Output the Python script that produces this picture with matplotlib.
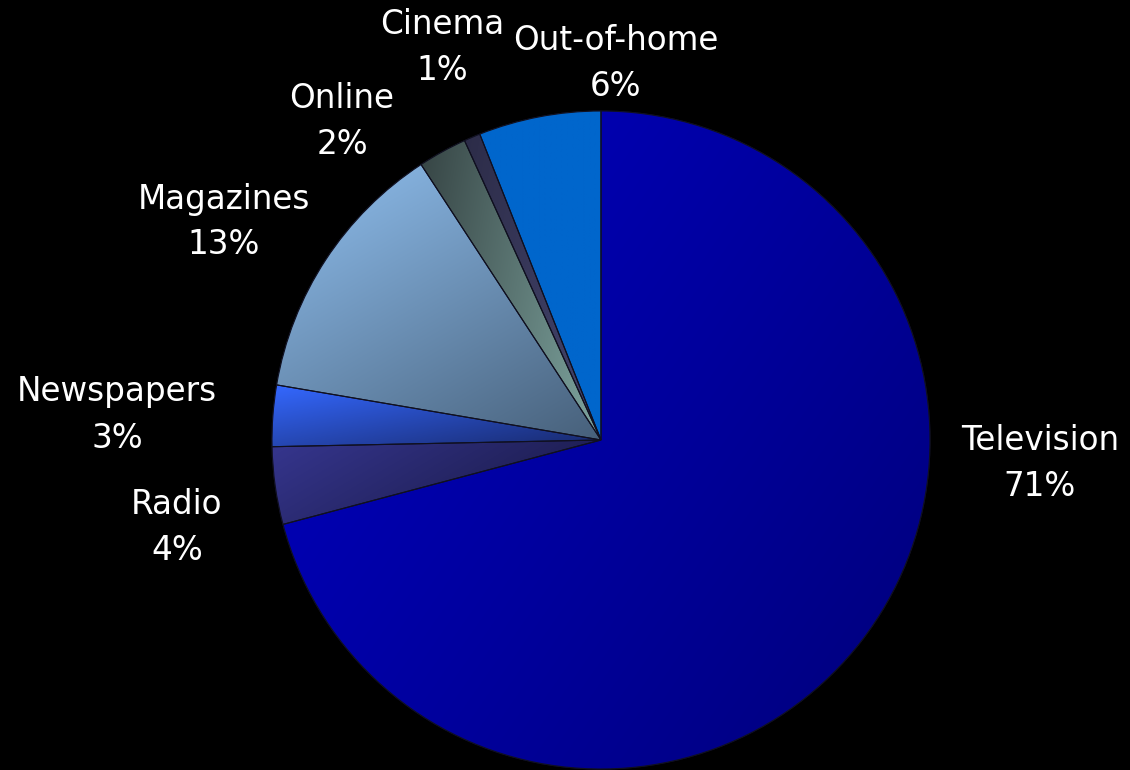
import numpy as np
import matplotlib.pyplot as plt
from matplotlib.colors import to_rgb
from matplotlib.patches import PathPatch

# ---------------------------------------------------------------------------
# DATA
# ---------------------------------------------------------------------------
media = ["Television", "Radio", "Newspapers", "Magazines", "Online", "Cinema", "Out-of-home"]
share = [70.8, 3.8, 3.0, 13.1, 2.4, 0.8, 6.0]
pct_labels = ["71%", "4%", "3%", "13%", "2%", "1%", "6%"]

# ---------------------------------------------------------------------------
# STYLE / LAYOUT (pixel geometry of the reference)
# ---------------------------------------------------------------------------
W, H = 1130, 770
CX, CY, R = 601, 440, 329

# gradient colours (start, end) and gradient direction in degrees
grad = [
    ("#0000c4", "#00007a", -35),
    ("#36368f", "#16163e", -60),
    ("#3468ff", "#18286a", -80),
    ("#90c0f0", "#47607a", -60),
    ("#364444", "#7fa6a0", -10),
    ("#2c2c48", "#45456e", -10),
    ("#0066cc", "#0066cc", -90),
]

# label centres in pixel coords
label_px = [(1040, 463), (177, 527), (117, 415), (224, 222),
            (342, 122), (442, 48), (616, 63)]


def px_to_data(x, y):
    return (x - CX) / R, (CY - y) / R


fig = plt.figure(figsize=(W / 100, H / 100), dpi=100, facecolor="black")
ax = fig.add_axes([0, 0, 1, 1])
ax.set_facecolor("black")

wedges, _ = ax.pie(
    share,
    startangle=90,
    counterclock=False,
    radius=1.0,
    wedgeprops=dict(edgecolor="#101020", linewidth=0.8),
)

x0, y0 = px_to_data(0, H)
x1, y1 = px_to_data(W, 0)
ax.set_xlim(x0, x1)
ax.set_ylim(y0, y1)
ax.set_aspect("equal")
ax.axis("off")

# fill each wedge with a linear gradient clipped to its path
for w, (c0, c1, ang) in zip(wedges, grad):
    w.set_facecolor(c1)
    bb = w.get_path().get_extents(w.get_transform() - ax.transData)
    n = 200
    xs = np.linspace(bb.x0, bb.x1, n)
    ys = np.linspace(bb.y0, bb.y1, n)
    gx, gy = np.meshgrid(xs, ys)
    d = np.array([np.cos(np.deg2rad(ang)), np.sin(np.deg2rad(ang))])
    proj = gx * d[0] + gy * d[1]
    t = (proj - proj.min()) / max(proj.max() - proj.min(), 1e-9)
    a, b = np.array(to_rgb(c0)), np.array(to_rgb(c1))
    img = a[None, None, :] * (1 - t[..., None]) + b[None, None, :] * t[..., None]
    im = ax.imshow(img, extent=(bb.x0, bb.x1, bb.y0, bb.y1), origin="lower",
                   interpolation="bilinear", zorder=w.get_zorder())
    im.set_clip_path(w)
    # redraw edge on top
    edge = PathPatch(w.get_path(), transform=w.get_transform(),
                     facecolor="none", edgecolor="#101020",
                     linewidth=0.8, zorder=w.get_zorder() + 0.5)
    ax.add_patch(edge)

for name, pct, (lx, ly) in zip(media, pct_labels, label_px):
    x, y = px_to_data(lx, ly)
    ax.text(x, y, f"{name}\n{pct}", color="white", fontsize=23.5, family="DejaVu Sans",
            ha="center", va="center", linespacing=1.5)

fig.savefig("out.png", dpi=100, facecolor="black")
